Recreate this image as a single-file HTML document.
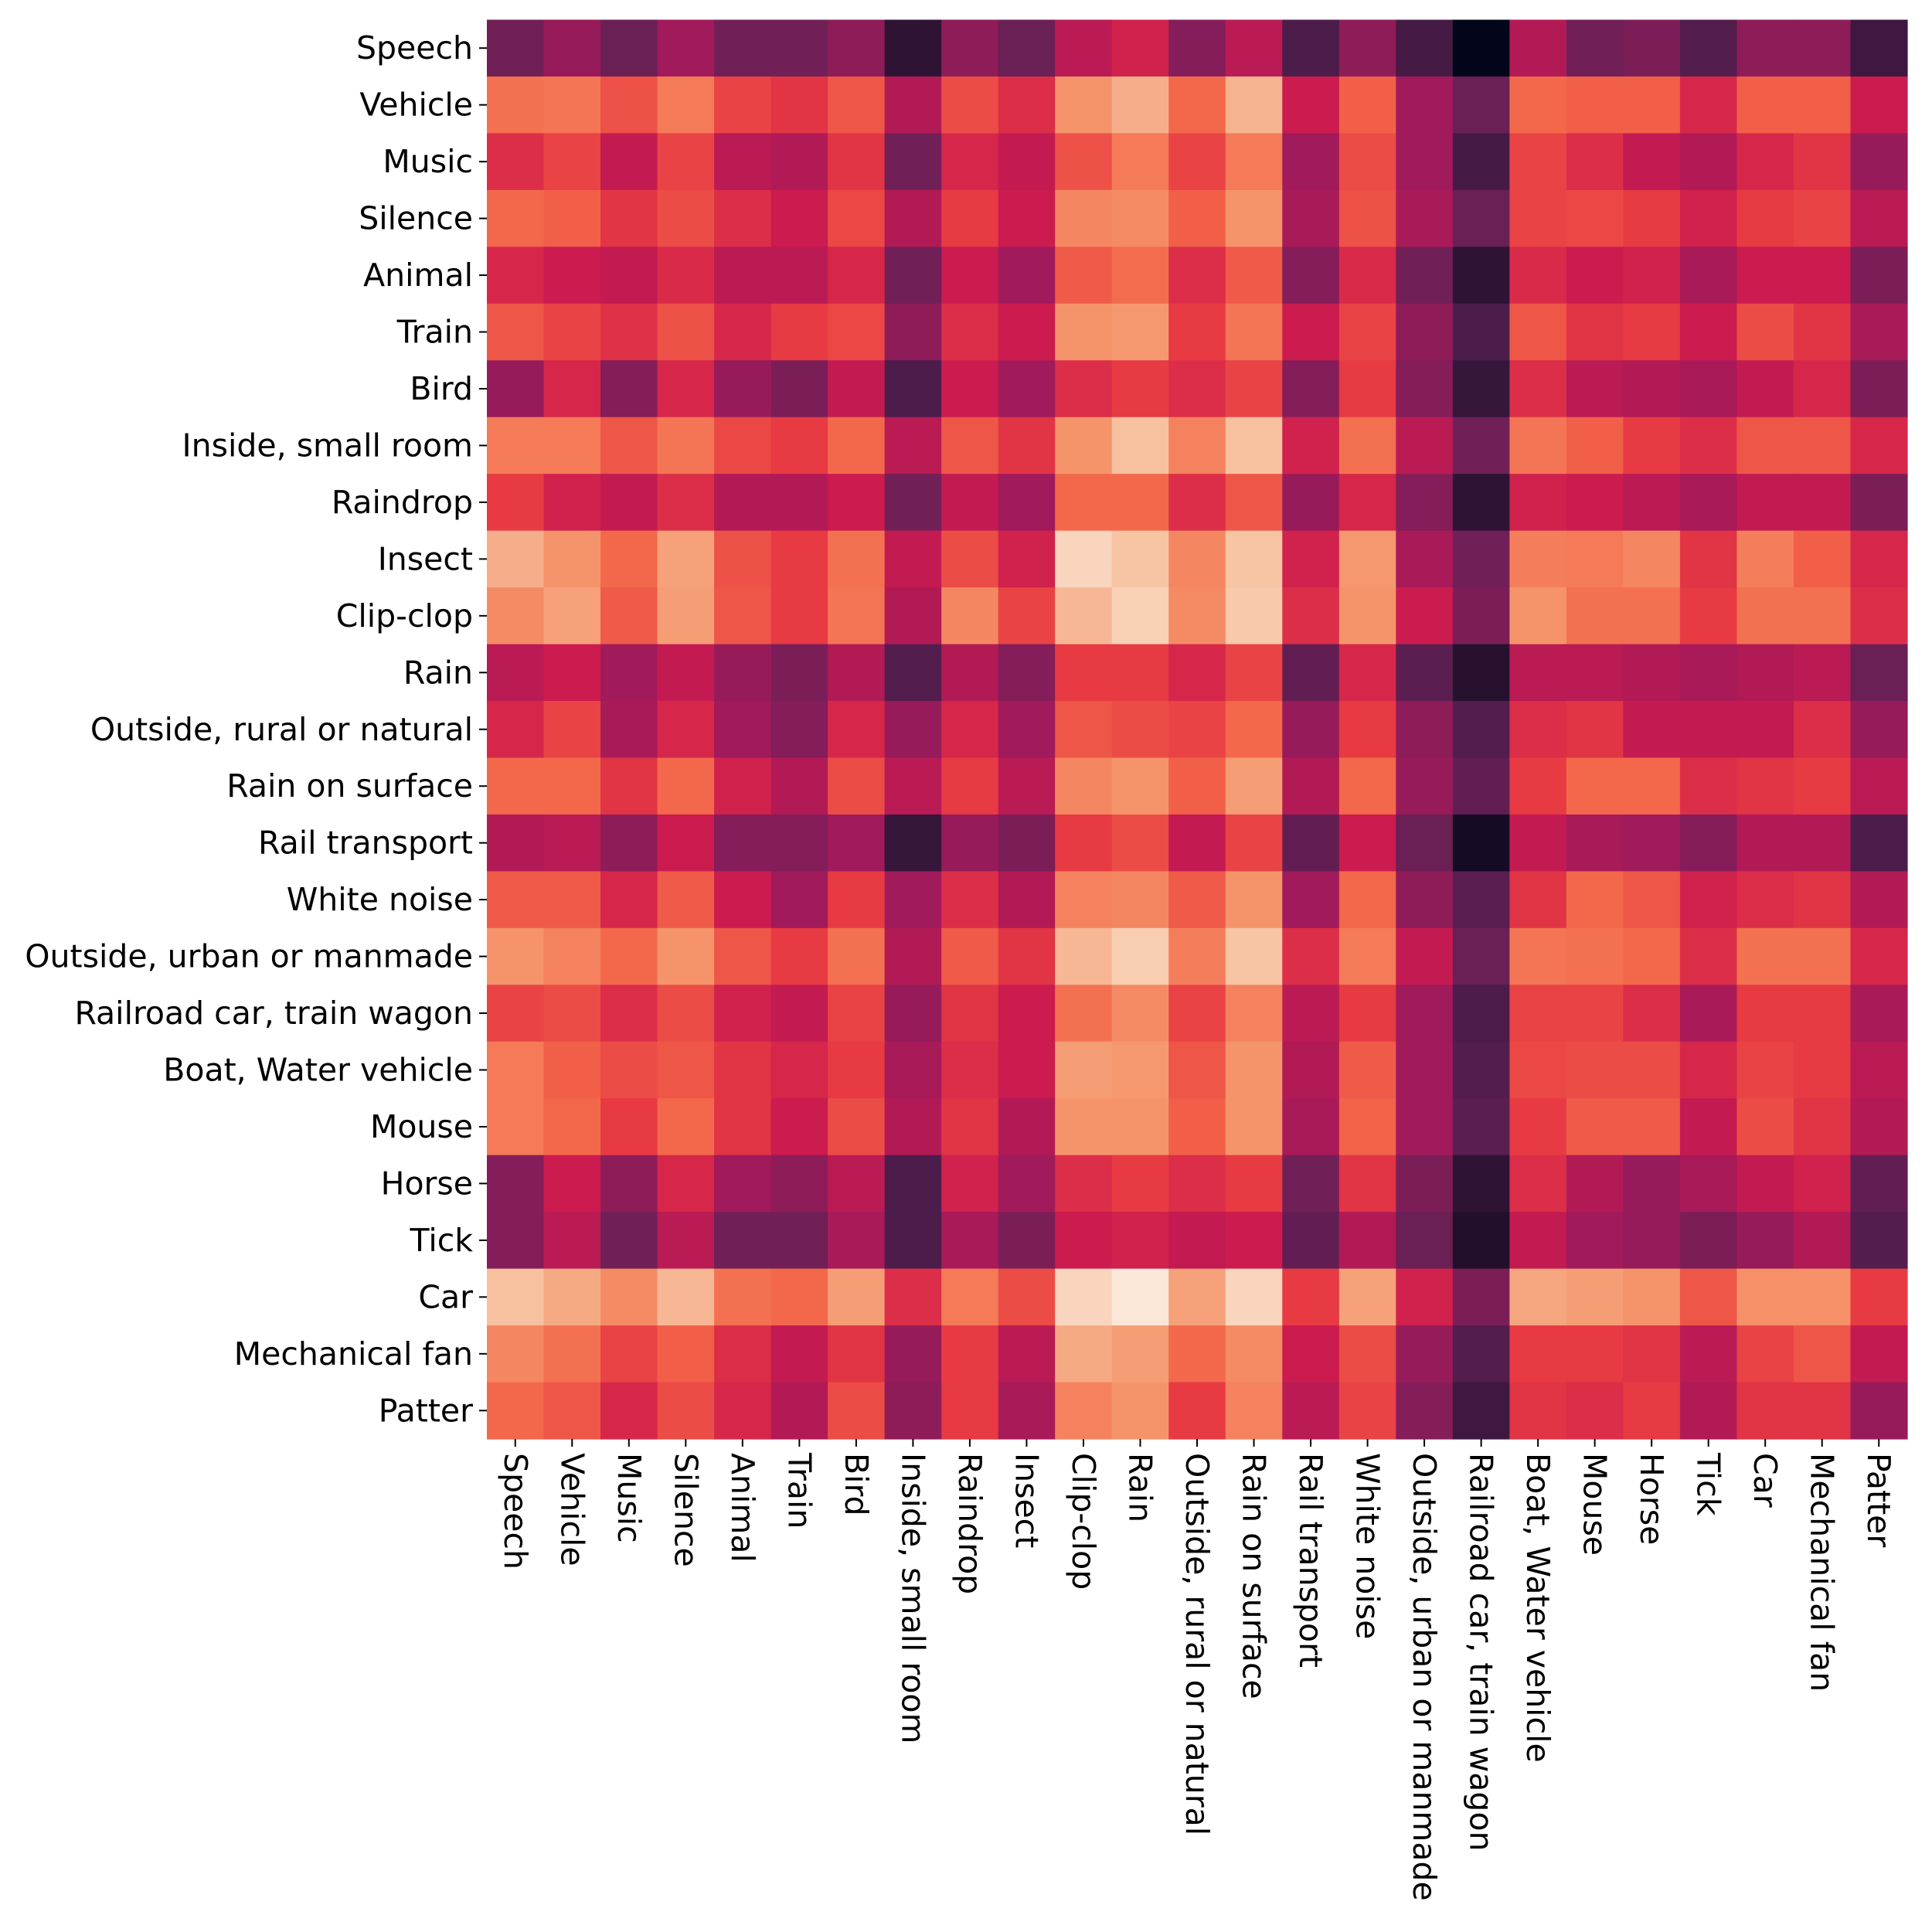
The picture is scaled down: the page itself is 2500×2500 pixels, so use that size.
<!DOCTYPE html>
<html><head><meta charset="utf-8"><style>
html,body{margin:0;padding:0;background:#fff;}
svg{display:block;}
text{font-family:"DejaVu Sans","Liberation Sans",sans-serif;font-size:41px;fill:#000;}
</style></head><body>
<svg id="chart" width="2500" height="2500" viewBox="0 0 2500 2500">
<g id="cells"></g>
<g id="yaxis"></g>
<g id="xaxis"></g>
</svg>
<script>
const labels = ["Speech","Vehicle","Music","Silence","Animal","Train","Bird","Inside, small room","Raindrop","Insect","Clip-clop","Rain","Outside, rural or natural","Rain on surface","Rail transport","White noise","Outside, urban or manmade","Railroad car, train wagon","Boat, Water vehicle","Mouse","Horse","Tick","Car","Mechanical fan","Patter"];
const rowSpeech=[0.3,0.38,0.28,0.4,0.3,0.3,0.36,0.12,0.36,0.28,0.46,0.52,0.34,0.46,0.2,0.36,0.18,0.0,0.44,0.3,0.32,0.22,0.36,0.36,0.16];
const rowVehicle=[0.72,0.73,0.65,0.74,0.62,0.58,0.66,0.44,0.64,0.56,0.8,0.86,0.7,0.87,0.5,0.68,0.4,0.28,0.7,0.68,0.68,0.54,0.68,0.68,0.5];
const rowMusic=[0.56,0.62,0.48,0.62,0.46,0.44,0.58,0.3,0.54,0.48,0.65,0.74,0.62,0.74,0.4,0.64,0.4,0.18,0.62,0.56,0.48,0.44,0.54,0.58,0.38];
const rowSilence=[0.7,0.68,0.58,0.64,0.56,0.5,0.63,0.44,0.6,0.5,0.77,0.78,0.68,0.8,0.42,0.65,0.42,0.28,0.62,0.63,0.6,0.52,0.6,0.62,0.46];
const rowAnimal=[0.54,0.5,0.48,0.55,0.46,0.46,0.54,0.3,0.5,0.4,0.67,0.71,0.56,0.67,0.34,0.55,0.3,0.12,0.55,0.5,0.52,0.42,0.5,0.5,0.32];
const rowTrain=[0.66,0.62,0.57,0.65,0.54,0.6,0.63,0.36,0.56,0.5,0.8,0.81,0.6,0.73,0.5,0.62,0.36,0.2,0.66,0.58,0.6,0.5,0.64,0.58,0.42];
const rowBird=[0.38,0.54,0.34,0.54,0.38,0.32,0.48,0.2,0.5,0.4,0.56,0.6,0.56,0.62,0.34,0.6,0.34,0.14,0.56,0.46,0.44,0.42,0.48,0.54,0.32];
const rowInside=[0.74,0.74,0.66,0.73,0.63,0.6,0.7,0.46,0.66,0.58,0.8,0.9,0.76,0.9,0.52,0.72,0.46,0.3,0.73,0.68,0.6,0.56,0.66,0.66,0.54];
const rowRaindrop=[0.6,0.52,0.48,0.56,0.44,0.44,0.5,0.3,0.48,0.4,0.7,0.7,0.56,0.66,0.38,0.54,0.34,0.12,0.52,0.5,0.46,0.42,0.48,0.48,0.32];
const rowInsect=[0.86,0.8,0.7,0.83,0.65,0.6,0.72,0.48,0.64,0.52,0.95,0.91,0.77,0.91,0.52,0.81,0.42,0.3,0.75,0.74,0.77,0.58,0.75,0.68,0.54];
const rowClipclop=[0.78,0.83,0.67,0.82,0.66,0.6,0.73,0.44,0.77,0.62,0.88,0.94,0.78,0.92,0.56,0.8,0.5,0.32,0.8,0.72,0.72,0.6,0.72,0.72,0.56];
const rowRain=[0.46,0.5,0.4,0.48,0.38,0.32,0.44,0.22,0.44,0.34,0.6,0.6,0.54,0.62,0.26,0.54,0.24,0.1,0.46,0.46,0.44,0.42,0.44,0.46,0.28];
const rowRural=[0.54,0.62,0.42,0.54,0.4,0.34,0.54,0.38,0.54,0.4,0.66,0.64,0.62,0.7,0.38,0.6,0.36,0.22,0.56,0.58,0.48,0.48,0.48,0.56,0.38];
const rowRainSurface=[0.7,0.7,0.58,0.7,0.52,0.44,0.64,0.46,0.6,0.46,0.77,0.8,0.68,0.82,0.44,0.7,0.38,0.26,0.6,0.7,0.7,0.56,0.58,0.6,0.46];
const rowRail=[0.44,0.46,0.36,0.5,0.34,0.34,0.4,0.14,0.38,0.32,0.6,0.64,0.48,0.62,0.26,0.5,0.28,0.05,0.48,0.42,0.4,0.34,0.44,0.44,0.2];
const rowWhite=[0.67,0.67,0.54,0.67,0.5,0.4,0.6,0.4,0.56,0.44,0.76,0.77,0.67,0.8,0.4,0.7,0.36,0.24,0.58,0.7,0.66,0.52,0.56,0.58,0.44];
const rowUrban=[0.8,0.76,0.7,0.8,0.66,0.6,0.72,0.44,0.67,0.58,0.88,0.93,0.75,0.91,0.56,0.74,0.48,0.28,0.73,0.72,0.7,0.56,0.72,0.72,0.54];
const rowRailroad=[0.62,0.64,0.56,0.64,0.52,0.48,0.62,0.38,0.58,0.5,0.72,0.78,0.62,0.76,0.46,0.6,0.4,0.2,0.62,0.62,0.56,0.42,0.6,0.6,0.42];
const rowBoat=[0.74,0.68,0.64,0.66,0.58,0.54,0.6,0.42,0.56,0.5,0.82,0.81,0.66,0.8,0.44,0.67,0.4,0.22,0.63,0.64,0.64,0.54,0.62,0.6,0.46];
const rowMouse=[0.74,0.7,0.6,0.7,0.58,0.5,0.64,0.44,0.58,0.44,0.8,0.8,0.68,0.8,0.42,0.69,0.4,0.24,0.6,0.67,0.67,0.48,0.64,0.58,0.44];
const rowHorse=[0.34,0.5,0.36,0.54,0.4,0.36,0.46,0.2,0.52,0.4,0.56,0.6,0.56,0.6,0.3,0.58,0.32,0.12,0.56,0.44,0.38,0.42,0.48,0.52,0.26];
const rowTick=[0.34,0.46,0.3,0.46,0.3,0.3,0.42,0.2,0.42,0.32,0.5,0.52,0.48,0.5,0.26,0.44,0.28,0.08,0.48,0.4,0.38,0.32,0.38,0.44,0.22];
const rowCar=[0.9,0.85,0.78,0.88,0.72,0.7,0.82,0.56,0.74,0.64,0.95,0.99,0.83,0.95,0.6,0.83,0.52,0.32,0.84,0.82,0.8,0.66,0.79,0.79,0.6];
const rowFan=[0.77,0.72,0.62,0.68,0.56,0.48,0.58,0.38,0.6,0.46,0.85,0.82,0.7,0.78,0.5,0.64,0.38,0.22,0.6,0.6,0.58,0.46,0.62,0.66,0.48];
const rowPatter=[0.7,0.66,0.54,0.64,0.54,0.44,0.64,0.36,0.6,0.42,0.76,0.8,0.6,0.76,0.46,0.62,0.34,0.16,0.58,0.56,0.6,0.44,0.58,0.58,0.38];
const matrix=[rowSpeech,rowVehicle,rowMusic,rowSilence,rowAnimal,rowTrain,rowBird,rowInside,rowRaindrop,rowInsect,rowClipclop,rowRain,rowRural,rowRainSurface,rowRail,rowWhite,rowUrban,rowRailroad,rowBoat,rowMouse,rowHorse,rowTick,rowCar,rowFan,rowPatter];

const stops=[[0,[3,5,26]],[0.1,[40,17,47]],[0.2,[76,29,75]],[0.3,[113,31,87]],[0.4,[161,26,91]],[0.5,[203,27,79]],[0.6,[231,58,67]],[0.7,[243,104,75]],[0.8,[245,148,107]],[0.9,[247,192,158]],[1,[250,235,221]]];
function color(v){v=Math.max(0,Math.min(1,v));for(let i=1;i<stops.length;i++){if(v<=stops[i][0]){const a=stops[i-1],b=stops[i];const t=(v-a[0])/(b[0]-a[0]);const c=a[1].map((x,k)=>Math.round(x+(b[1][k]-x)*t));return `rgb(${c[0]},${c[1]},${c[2]})`;}}return 'rgb(250,235,221)';}
const X0=630,X1=2468,Y0=25.5,Y1=1862;
const n=labels.length,cw=(X1-X0)/n,ch=(Y1-Y0)/n;
function xs(j){return X0+j*cw;} function ys(i){return Y0+i*ch;}
const NS="http://www.w3.org/2000/svg";
const cells=document.getElementById('cells'),ya=document.getElementById('yaxis'),xa=document.getElementById('xaxis');
for(let i=0;i<n;i++)for(let j=0;j<n;j++){
 const r=document.createElementNS(NS,'rect');
 r.setAttribute('x',xs(j));r.setAttribute('y',ys(i));r.setAttribute('width',cw+0.6);r.setAttribute('height',ch+0.6);
 r.setAttribute('fill',color(matrix[i][j]));
 
 
 cells.appendChild(r);
}
for(let i=0;i<n;i++){
 const y=ys(i)+ch/2;
 const l=document.createElementNS(NS,'line');
 l.setAttribute('x1',X0-10);l.setAttribute('x2',X0);l.setAttribute('y1',y);l.setAttribute('y2',y);l.setAttribute('stroke','#000');l.setAttribute('stroke-width','2');
 
 
 ya.appendChild(l);
 const t=document.createElementNS(NS,'text');
 t.setAttribute('x',X0-18);t.setAttribute('y',y);t.setAttribute('text-anchor','end');t.setAttribute('dominant-baseline','central');
 t.textContent=labels[i];
 
 
 ya.appendChild(t);
}
for(let j=0;j<n;j++){
 const x=xs(j)+cw/2;
 const l=document.createElementNS(NS,'line');
 l.setAttribute('x1',x);l.setAttribute('x2',x);l.setAttribute('y1',Y1);l.setAttribute('y2',Y1+10);l.setAttribute('stroke','#000');l.setAttribute('stroke-width','2');
 
 
 xa.appendChild(l);
 const t=document.createElementNS(NS,'text');
 t.setAttribute('transform',`translate(${x},${Y1+18}) rotate(90)`);
 t.setAttribute('dominant-baseline','central');
 t.textContent=labels[j];
 
 
 xa.appendChild(t);
}
</script>
</body></html>
